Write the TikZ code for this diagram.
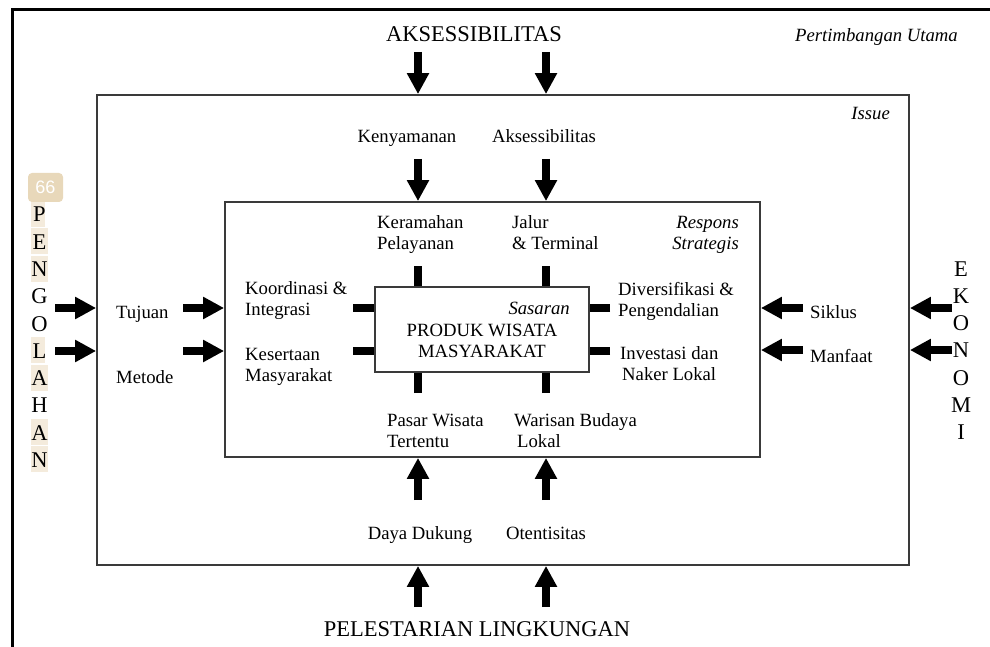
\documentclass[tikz,border=0pt]{standalone}
\usepackage{fontspec}
\setmainfont{Liberation Serif}
\newfontfamily\badgefont{Liberation Sans}
\usetikzlibrary{arrows.meta}
\definecolor{boxline}{HTML}{3A3A3A}
\definecolor{hilite}{HTML}{F4EBDC}
\definecolor{badge}{HTML}{E8D8BA}
\tikzset{
  lbl/.style={inner sep=0pt, font=\fontsize{18.7}{21}\selectfont},
  lblit/.style={lbl, font=\fontsize{18.7}{21}\selectfont\itshape},
  big/.style={inner sep=0pt, font=\fontsize{22.5}{27}\selectfont},
  fat/.style={line width=8pt, -{Triangle[length=21pt,width=21pt]}},
  stub/.style={line width=8pt},
  box/.style={draw=boxline, line width=1.8pt, inner sep=0pt},
}
\begin{document}
\begin{tikzpicture}[x=1pt,y=-1pt]
\useasboundingbox (0,0) rectangle (990,647);

% outer frame (open to the right and bottom)
\draw[line width=3pt] (12,647) -- (12,10) -- (990,10);

% nested boxes
\node[box, minimum width=812pt, minimum height=470pt] (issue) at (503,330) {};
\node[box, minimum width=535pt, minimum height=255pt] (respons) at (492.5,329.5) {};
\node[box, minimum width=214pt, minimum height=85pt] (sasaran) at (482,329.5) {};

% corner captions (multi-line nodes are placed by the baseline of their last line)
\node[lblit, anchor=base east] (pertimbangan) at (958,42) {Pertimbangan Utama};
\node[lblit, anchor=base east] (issuecap) at (890,120) {Issue};
\node[lblit, anchor=base east, align=right] (responscap) at (739,249) {Respons\\Strategis};
\node[lblit, anchor=base east] (sasarancap) at (570,314) {Sasaran};
\node[lbl, anchor=base, align=center] (produk) at (482,357) {PRODUK WISATA\\MASYARAKAT};

% top
\node[big, anchor=base] (aksesbig) at (474,42) {AKSESSIBILITAS};
\node[lbl, anchor=base] (kenyamanan) at (407,143) {Kenyamanan};
\node[lbl, anchor=base] (aksessmall) at (544,143) {Aksessibilitas};
\node[lbl, anchor=base west, align=left] (keramahan) at (377,249) {Keramahan\\Pelayanan};
\node[lbl, anchor=base west, align=left] (jalur) at (512,249) {Jalur\\\& Terminal};

\coordinate (ta) at (418,52);
\coordinate (tb) at (546,52);
\coordinate (ia) at (418,159);
\coordinate (ib) at (546,159);
\draw[fat] (ta) -- (ta |- issue.north);
\draw[fat] (tb) -- (tb |- issue.north);
\draw[fat] (ia) -- (ia |- respons.north);
\draw[fat] (ib) -- (ib |- respons.north);
\coordinate (sa) at (418,266);
\coordinate (sb) at (546,266);
\draw[stub] (sa) -- (sa |- sasaran.north);
\draw[stub] (sb) -- (sb |- sasaran.north);

% bottom
\node[lbl, anchor=base west, align=left] (pasar) at (387,447) {Pasar Wisata\\Tertentu};
\node[lbl, anchor=base west, align=left] (warisan) at (514,447) {Warisan Budaya\\\hspace*{3pt}Lokal};
\node[lbl, anchor=base] (daya) at (420,539) {Daya Dukung};
\node[lbl, anchor=base] (otentisitas) at (546,539) {Otentisitas};
\node[big, anchor=base] (pelestarian) at (477,636) {PELESTARIAN LINGKUNGAN};

\coordinate (ba) at (418,607);
\coordinate (bb) at (546,607);
\coordinate (ja) at (418,500);
\coordinate (jb) at (546,500);
\draw[fat] (ba) -- (ba |- issue.south);
\draw[fat] (bb) -- (bb |- issue.south);
\draw[fat] (ja) -- (ja |- respons.south);
\draw[fat] (jb) -- (jb |- respons.south);
\coordinate (ua) at (418,393);
\coordinate (ub) at (546,393);
\draw[stub] (ua) -- (ua |- sasaran.south);
\draw[stub] (ub) -- (ub |- sasaran.south);

% left
\node[lbl, anchor=base west] (tujuan) at (116,318) {Tujuan};
\node[lbl, anchor=base west] (metode) at (116,383) {Metode};
\node[lbl, anchor=base west, align=left] (koordinasi) at (245,315) {Koordinasi \&\\Integrasi};
\node[lbl, anchor=base west, align=left] (kesertaan) at (245,381) {Kesertaan\\Masyarakat};

\coordinate (la) at (55,308);
\coordinate (lb) at (55,351);
\coordinate (ka) at (183,308);
\coordinate (kb) at (183,351);
\draw[fat] (la) -- (la -| issue.west);
\draw[fat] (lb) -- (lb -| issue.west);
\draw[fat] (ka) -- (ka -| respons.west);
\draw[fat] (kb) -- (kb -| respons.west);
\coordinate (xa) at (353,308);
\coordinate (xb) at (353,351);
\draw[stub] (xa) -- (xa -| sasaran.west);
\draw[stub] (xb) -- (xb -| sasaran.west);

% right
\node[lbl, anchor=base west] (siklus) at (810,318) {Siklus};
\node[lbl, anchor=base west] (manfaat) at (810,362) {Manfaat};
\node[lbl, anchor=base west, align=left] (diversifikasi) at (618,316) {Diversifikasi \&\\Pengendalian};
\node[lbl, anchor=base west, align=left] (investasi) at (620,380) {Investasi dan\\\hspace*{2pt}Naker Lokal};

\coordinate (ra) at (952,308);
\coordinate (rb) at (952,350);
\coordinate (qa) at (803,308);
\coordinate (qb) at (803,350);
\draw[fat] (ra) -- (ra -| issue.east);
\draw[fat] (rb) -- (rb -| issue.east);
\draw[fat] (qa) -- (qa -| respons.east);
\draw[fat] (qb) -- (qb -| respons.east);
\coordinate (ya) at (610,308);
\coordinate (yb) at (610,351);
\draw[stub] (ya) -- (ya -| sasaran.east);
\draw[stub] (yb) -- (yb -| sasaran.east);

% vertical side words
\foreach \i/\w in {1/45,2/48,3/48,6/45,7/48,9/48,10/48}
  \fill[hilite] (31,{222+27.25*(\i-1)-21}) rectangle (\w,{222+27.25*(\i-1)+5});
\foreach \l [count=\i] in {P,E,N,G,O,L,A,H,A,N}
  \node[big, anchor=base] (peng-\i) at (39.5,{222+27.25*(\i-1)}) {\l};
\foreach \l [count=\i] in {E,K,O,N,O,M,I}
  \node[big, anchor=base] (eko-\i) at (961,{276+27.3*(\i-1)}) {\l};

% page badge
\node[fill=badge, rounded corners=4pt, minimum width=35pt, minimum height=29pt,
      inner sep=0pt, text=white, font=\badgefont\fontsize{18}{18}\selectfont]
      (pagebadge) at (45.5,187.5) {66};
\end{tikzpicture}
\end{document}
